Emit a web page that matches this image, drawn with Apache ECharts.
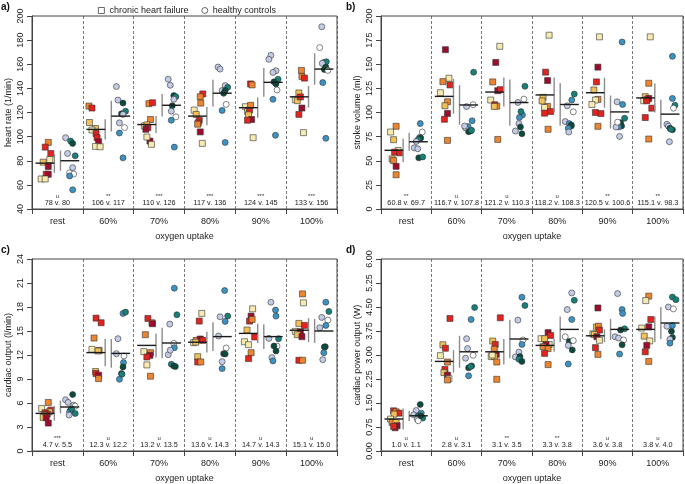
<!DOCTYPE html>
<html><head><meta charset="utf-8">
<script src="https://cdn.jsdelivr.net/npm/echarts@6/dist/echarts.min.js"></script>
<style>html,body{margin:0;padding:0;background:#fff}#c{width:685px;height:484px}</style>
</head><body><div id="c"></div>
<script>
const FONT = '"Liberation Sans", Arial, sans-serif';
const stages = ['rest', '60%', '70%', '80%', '90%', '100%'];
const groupNames = ['chronic heart failure', 'healthy controls'];
const xName = 'oxygen uptake';

// ---- a) heart rate ----
const hrName = 'heart rate (1/min)';
const hrTicks = {min: 40, max: 200, interval: 20};
const hrChf = [
 [[.32,95.2,'O'],[.26,91.3,'R'],[.37,86.0,'R'],[.35,81.0,'P'],[.22,78.8,'Y'],[.32,75.2,'D'],[.28,68.8,'R'],[.32,68.8,'D'],[.18,64.9,'P'],[.26,64.9,'P']],
 [[.12,125.3,'O'],[.18,123.7,'R'],[.13,111.7,'Y'],[.25,106.7,'Y'],[.18,105.5,'P'],[.26,102.5,'R'],[.28,99.1,'R'],[.31,95.8,'D'],[.25,91.9,'P'],[.34,91.6,'P']],
 [[.30,127.3,'O'],[.37,128.1,'R'],[.33,114.2,'O'],[.21,108.9,'P'],[.26,109.7,'Y'],[.28,107.5,'R'],[.24,106.1,'D'],[.32,96.3,'D'],[.26,99.7,'P'],[.35,93.6,'P']],
 [[.36,135.4,'R'],[.31,133.1,'O'],[.32,127.8,'O'],[.19,122.0,'P'],[.23,118.4,'Y'],[.29,113.6,'R'],[.27,111.4,'R'],[.26,110.3,'O'],[.31,103.9,'D'],[.35,94.4,'P']],
 [[.30,143.7,'R'],[.33,142.9,'O'],[.20,124.8,'P'],[.24,121.0,'Y'],[.28,122.0,'R'],[.30,126.0,'O'],[.26,118.0,'Y'],[.32,114.2,'D'],[.24,113.6,'R'],[.35,99.1,'P']],
 [[.30,154.9,'O'],[.31,149.9,'O'],[.36,148.5,'R'],[.25,136.2,'Y'],[.18,130.6,'P'],[.22,129.8,'Y'],[.28,132.9,'R'],[.31,123.7,'D'],[.25,118.4,'R'],[.34,103.3,'P']]
];
const hrHc = [
 [[.66,99.1,'L'],[.76,96.3,'T'],[.80,94.4,'G'],[.70,86.0,'L'],[.85,84.1,'T'],[.80,74.3,'L'],[.74,69.9,'W'],[.82,69.0,'W'],[.74,67.4,'B'],[.80,55.9,'B']],
 [[.66,141.5,'L'],[.69,130.3,'L'],[.79,127.8,'G'],[.84,121.1,'T'],[.76,118.9,'G'],[.79,118.4,'L'],[.72,111.4,'L'],[.82,107.5,'W'],[.72,103.0,'B'],[.79,82.4,'B']],
 [[.68,147.6,'L'],[.72,142.6,'L'],[.79,134.0,'G'],[.83,133.1,'T'],[.79,130.9,'L'],[.76,125.6,'G'],[.74,121.1,'L'],[.83,116.4,'W'],[.74,113.6,'B'],[.80,91.3,'B']],
 [[.66,157.7,'L'],[.70,156.0,'L'],[.80,142.3,'L'],[.85,140.9,'T'],[.74,138.2,'L'],[.80,138.2,'G'],[.77,135.9,'G'],[.82,126.7,'W'],[.74,121.7,'B'],[.80,95.2,'B']],
 [[.70,167.4,'L'],[.66,164.1,'L'],[.80,154.6,'L'],[.74,153.2,'L'],[.84,147.6,'T'],[.76,145.4,'G'],[.80,143.7,'G'],[.82,138.7,'W'],[.74,130.9,'B'],[.79,101.1,'B']],
 [[.70,191.1,'L'],[.66,173.8,'W'],[.74,161.6,'L'],[.79,162.1,'T'],[.71,160.7,'L'],[.78,157.7,'G'],[.75,155.7,'G'],[.82,154.9,'W'],[.72,144.8,'B'],[.78,98.6,'B']]
];
const hrChfMean = [78, 106, 110, 117, 124, 133];
const hrHcMean = [80, 117, 126, 136, 145, 156];
const hrChfSd = [8, 8.4, 7, 7.5, 8.4, 9];
const hrHcSd = [8.4, 12.8, 9.3, 11.1, 11.9, 13];
const hrSig = ['u', '**', '***', '***', '***', '***'];

// ---- b) stroke volume ----
const svName = 'stroke volume (ml)';
const svTicks = {min: 0, max: 200, interval: 25};
const svChf = [
 [[.30,85.7,'O'],[.19,79.8,'P'],[.25,71.8,'Y'],[.34,60.6,'P'],[.27,58.9,'R'],[.37,58.2,'R'],[.22,51.9,'Y'],[.25,50.2,'O'],[.30,44.2,'D'],[.30,35.5,'O']],
 [[.28,165.1,'D'],[.35,135.5,'P'],[.23,132.0,'O'],[.37,128.6,'R'],[.18,120.5,'P'],[.32,111.1,'O'],[.27,107.0,'Y'],[.32,99.0,'D'],[.26,93.0,'R'],[.32,71.1,'O']],
 [[.36,168.6,'P'],[.28,151.9,'D'],[.22,131.7,'O'],[.32,122.6,'D'],[.37,123.7,'R'],[.18,112.9,'P'],[.26,108.0,'R'],[.30,106.6,'O'],[.25,106.3,'Y'],[.32,72.1,'O']],
 [[.34,180.1,'P'],[.27,141.8,'R'],[.31,133.1,'D'],[.22,115.7,'Y'],[.31,106.3,'O'],[.25,105.2,'P'],[.37,101.0,'R'],[.25,99.3,'R'],[.32,82.6,'O'],[.20,112.0,'Y']],
 [[.34,178.4,'P'],[.31,147.0,'D'],[.28,131.7,'R'],[.23,123.3,'Y'],[.31,113.6,'O'],[.26,112.9,'P'],[.19,108.3,'P'],[.26,100.0,'R'],[.37,98.9,'R'],[.31,85.7,'O']],
 [[.35,178.4,'P'],[.32,130.3,'O'],[.25,116.4,'Y'],[.22,112.2,'P'],[.28,113.2,'O'],[.32,114.6,'D'],[.28,112.2,'R'],[.38,104.5,'R'],[.25,94.8,'R'],[.32,72.5,'O']]
];
const svHc = [
 [[.78,88.5,'B'],[.82,79.8,'W'],[.77,74.2,'B'],[.79,73.5,'G'],[.74,72.1,'T'],[.70,70.0,'L'],[.66,63.4,'L'],[.73,62.4,'L'],[.75,53.0,'G'],[.83,54.0,'T']],
 [[.84,141.8,'T'],[.83,108.1,'W'],[.70,106.1,'L'],[.81,91.4,'B'],[.73,85.4,'B'],[.68,84.0,'L'],[.66,86.0,'L'],[.78,80.9,'G'],[.74,80.1,'G'],[.80,81.5,'T']],
 [[.86,127.2,'T'],[.84,113.9,'W'],[.72,110.4,'L'],[.81,97.5,'B'],[.75,94.8,'B'],[.74,88.5,'L'],[.77,85.0,'G'],[.67,80.8,'L'],[.80,78.0,'G'],[.78,101.0,'T']],
 [[.84,119.1,'T'],[.79,112.9,'B'],[.70,106.9,'L'],[.82,100.7,'W'],[.66,90.6,'L'],[.74,88.5,'B'],[.78,87.1,'G'],[.78,86.0,'G'],[.72,83.6,'B'],[.73,79.8,'L']],
 [[.79,173.1,'B'],[.69,111.1,'L'],[.80,108.3,'B'],[.84,94.1,'T'],[.76,89.5,'G'],[.78,86.0,'G'],[.72,85.0,'B'],[.67,85.0,'L'],[.74,75.2,'L'],[.70,90.0,'W']],
 [[.79,158.2,'B'],[.79,114.6,'B'],[.84,107.6,'T'],[.81,104.5,'W'],[.68,87.8,'L'],[.71,86.0,'L'],[.74,83.6,'G'],[.79,82.2,'G'],[.76,82.6,'T'],[.73,69.7,'L']]
];
const svChfMean = [60.8, 116.7, 121.2, 118.2, 120.5, 115.1];
const svHcMean = [69.7, 107.8, 110.3, 108.3, 100.6, 98.3];
const svChfSd = [12, 18, 15, 18, 15.5, 15];
const svHcSd = [9.4, 20.5, 24, 22, 17, 15];
const svSig = ['**', 'u', 'u', 'u', '**', '**'];

// ---- c) cardiac output ----
const coName = 'cardiac output (l/min)';
const coTicks = {min: 0, max: 24, interval: 3};
const coChf = [
 [[.32,6.07,'O'],[.19,5.32,'P'],[.37,5.11,'R'],[.34,4.9,'Y'],[.26,4.78,'R'],[.30,4.61,'R'],[.24,4.5,'O'],[.22,4.20,'Y'],[.28,4.16,'D'],[.32,3.49,'D']],
 [[.26,16.61,'R'],[.36,16.03,'R'],[.22,14.12,'O'],[.18,12.71,'P'],[.32,12.58,'O'],[.30,12.5,'Y'],[.25,9.93,'Y'],[.26,9.68,'R'],[.31,9.47,'D'],[.31,9.05,'O']],
 [[.28,16.57,'R'],[.36,16.03,'O'],[.37,15.91,'D'],[.23,14.54,'O'],[.20,12.42,'P'],[.33,12.29,'O'],[.32,11.96,'D'],[.26,11.75,'R'],[.26,10.76,'P'],[.33,9.35,'O']],
 [[.34,17.2,'P'],[.29,16.24,'R'],[.23,13.83,'O'],[.18,13.54,'P'],[.31,14.0,'D'],[.36,13.83,'R'],[.26,11.79,'Y'],[.26,11.13,'R'],[.32,11.13,'O'],[.22,13.6,'Y']],
 [[.34,17.77,'P'],[.31,16.86,'D'],[.28,16.24,'R'],[.33,16.45,'O'],[.23,15.12,'Y'],[.38,14.25,'R'],[.18,13.66,'P'],[.26,13.29,'P'],[.31,12.29,'O'],[.26,11.55,'R']],
 [[.32,19.64,'O'],[.34,18.52,'P'],[.25,15.95,'Y'],[.36,15.7,'R'],[.18,14.95,'P'],[.28,14.91,'D'],[.22,14.54,'Y'],[.31,14.29,'D'],[.25,11.34,'R'],[.32,11.34,'O']]
];
const coHc = [
 [[.80,7.06,'G'],[.66,6.40,'L'],[.71,6.07,'L'],[.82,5.73,'L'],[.85,5.61,'W'],[.76,5.15,'G'],[.74,4.90,'B'],[.78,5.24,'T'],[.73,4.49,'L'],[.85,4.69,'T']],
 [[.79,17.2,'B'],[.84,17.36,'T'],[.69,14.04,'L'],[.66,12.17,'L'],[.81,11.88,'W'],[.80,11.05,'B'],[.79,10.51,'G'],[.76,9.68,'G'],[.72,8.97,'B'],[.77,9.6,'T']],
 [[.80,20.35,'B'],[.85,17.03,'T'],[.71,15.86,'L'],[.79,13.46,'W'],[.80,12.92,'B'],[.68,12.04,'L'],[.74,10.84,'T'],[.79,10.63,'G'],[.82,10.55,'G'],[.72,12.6,'L']],
 [[.79,20.06,'B'],[.70,16.78,'L'],[.85,16.86,'T'],[.80,16.2,'B'],[.67,14.37,'L'],[.82,12.88,'W'],[.77,12.17,'G'],[.80,12.13,'G'],[.74,11.17,'L'],[.74,10.3,'B']],
 [[.70,18.6,'L'],[.79,17.61,'B'],[.80,16.86,'B'],[.85,14.04,'T'],[.66,14.08,'L'],[.82,13.12,'W'],[.76,13.12,'G'],[.80,12.5,'G'],[.72,11.67,'L'],[.74,11.26,'B']],
 [[.78,18.6,'B'],[.84,17.44,'T'],[.70,16.7,'L'],[.82,16.36,'W'],[.78,15.7,'B'],[.66,15.41,'L'],[.77,13.04,'G'],[.75,13.0,'G'],[.74,12.29,'B'],[.72,11.42,'L']]
];
const coChfMean = [4.7, 12.3, 13.2, 13.6, 14.7, 15.1];
const coHcMean = [5.5, 12.2, 13.5, 14.3, 14.3, 15.0];
const coChfSd = [0.9, 1.7, 1.5, 1.3, 1.2, 1.5];
const coHcSd = [0.8, 1.8, 1.9, 1.8, 1.55, 1.5];
const coSig = ['***', 'u', 'u', 'u', 'u', 'u'];

// ---- d) cardiac power output ----
const cpoName = 'cardiac power output (W)';
const cpoTicks = {min: 0, max: 6, interval: 0.75};
const cpoChf = [
 [[.25,1.256,'R'],[.30,1.225,'O'],[.36,1.183,'R'],[.26,1.152,'Y'],[.19,0.997,'P'],[.22,0.893,'O'],[.30,0.893,'Y'],[.32,0.789,'D'],[.28,0.727,'D'],[.25,0.768,'R']],
 [[.37,4.142,'R'],[.23,3.32,'Y'],[.28,3.21,'R'],[.18,2.98,'P'],[.32,2.78,'O'],[.27,2.55,'R'],[.25,2.45,'Y'],[.32,2.37,'D'],[.35,2.26,'P'],[.32,2.22,'O']],
 [[.37,4.163,'R'],[.22,3.436,'Y'],[.27,3.33,'R'],[.25,3.18,'O'],[.29,3.02,'D'],[.19,2.95,'P'],[.25,2.95,'Y'],[.30,2.78,'O'],[.30,2.24,'O'],[.21,3.0,'P']],
 [[.32,3.70,'D'],[.37,3.61,'R'],[.18,3.51,'P'],[.25,3.51,'Y'],[.34,3.33,'P'],[.28,3.32,'D'],[.22,3.26,'O'],[.32,3.2,'O'],[.25,3.05,'R'],[.32,2.70,'O']],
 [[.31,4.47,'D'],[.28,3.87,'Y'],[.32,3.9,'O'],[.34,3.78,'R'],[.21,3.66,'P'],[.24,3.64,'Y'],[.29,3.57,'D'],[.34,3.46,'P'],[.26,3.23,'R'],[.31,3.02,'O']],
 [[.32,4.84,'O'],[.26,4.70,'P'],[.36,4.11,'R'],[.32,3.88,'D'],[.18,3.84,'P'],[.23,3.59,'Y'],[.34,3.44,'P'],[.28,3.30,'D'],[.25,3.10,'R'],[.32,2.80,'O']]
];
const cpoHc = [
 [[.78,1.453,'G'],[.70,1.266,'L'],[.80,1.183,'B'],[.65,1.132,'L'],[.74,1.1,'T'],[.77,1.07,'B'],[.72,0.997,'L'],[.83,1.028,'T'],[.74,0.945,'W'],[.79,1.1,'G']],
 [[.86,4.485,'T'],[.79,4.11,'B'],[.70,3.51,'L'],[.83,2.99,'W'],[.68,2.9,'L'],[.80,2.66,'G'],[.74,2.6,'G'],[.78,2.64,'T'],[.74,2.35,'B'],[.72,3.2,'L']],
 [[.80,4.806,'B'],[.86,4.547,'T'],[.72,4.09,'L'],[.82,3.467,'W'],[.80,3.33,'B'],[.74,3.09,'L'],[.67,2.94,'L'],[.76,2.95,'G'],[.74,2.87,'T'],[.80,2.80,'G']],
 [[.79,4.94,'L'],[.84,4.71,'T'],[.70,4.42,'L'],[.79,4.11,'B'],[.66,3.57,'W'],[.74,3.42,'G'],[.82,3.45,'W'],[.72,3.30,'L'],[.80,3.16,'G'],[.72,2.72,'B']],
 [[.70,4.92,'L'],[.79,4.42,'B'],[.80,4.30,'B'],[.84,3.82,'T'],[.76,3.78,'G'],[.65,3.57,'L'],[.72,3.53,'L'],[.82,3.47,'W'],[.79,3.32,'G'],[.74,3.03,'B']],
 [[.79,4.81,'T'],[.86,4.73,'T'],[.71,4.5,'L'],[.81,4.44,'W'],[.79,3.92,'B'],[.68,3.9,'L'],[.77,3.74,'G'],[.79,3.55,'G'],[.74,3.49,'L'],[.74,3.37,'B']]
];
const cpoChfMean = [1.0, 2.8, 3.1, 3.3, 3.6, 3.8];
const cpoHcMean = [1.1, 3.1, 3.5, 3.8, 3.8, 4.0];
const cpoChfSd = [0.33, 0.35, 0.4, 0.2, 0.2, 0.4];
const cpoHcSd = [0.16, 0.5, 0.6, 0.4, 0.33, 0.5];
const cpoSig = ['u', 'u', '**', '**', 'u', 'u'];

// ---- styling ----
const chfColors = {P: '#f6eaae', Y: '#f1c158', O: '#ed8530', R: '#e2231e', D: '#9c0c2c'};
const hcColors = {W: '#ffffff', L: '#c2cce6', B: '#3b93c3', T: '#168079', G: '#0a4b3d'};

const panels = [
  {letter: 'a)', name: hrName, ticks: hrTicks, chf: hrChf, hc: hrHc, cm: hrChfMean, hm: hrHcMean, cs: hrChfSd, hs: hrHcSd, sig: hrSig, dec: 0, ldec: 0,
   grid: {left: 32, top: 16, width: 305, height: 193}},
  {letter: 'b)', name: svName, ticks: svTicks, chf: svChf, hc: svHc, cm: svChfMean, hm: svHcMean, cs: svChfSd, hs: svHcSd, sig: svSig, dec: 1, ldec: 0,
   grid: {left: 381, top: 16, width: 302, height: 193}},
  {letter: 'c)', name: coName, ticks: coTicks, chf: coChf, hc: coHc, cm: coChfMean, hm: coHcMean, cs: coChfSd, hs: coHcSd, sig: coSig, dec: 1, ldec: 0,
   grid: {left: 32, top: 259, width: 305, height: 194}},
  {letter: 'd)', name: cpoName, ticks: cpoTicks, chf: cpoChf, hc: cpoHc, cm: cpoChfMean, hm: cpoHcMean, cs: cpoChfSd, hs: cpoHcSd, sig: cpoSig, dec: 1, ldec: 2,
   grid: {left: 381, top: 259, width: 302, height: 194}}
];

const AX = '#444';
const grids = [], xAxes = [], yAxes = [], series = [], graphics = [];

panels.forEach((p, k) => {
  grids.push(Object.assign({show: true, borderColor: AX, borderWidth: 1, containLabel: false}, p.grid));
  // value axis for positions
  xAxes.push({type: 'value', gridIndex: k, min: 0, max: stages.length, show: false});
  // category axis for labels
  xAxes.push({type: 'category', gridIndex: k, data: stages, boundaryGap: true, position: 'bottom',
    axisLine: {show: true, lineStyle: {color: AX, width: 1}},
    axisTick: {show: true, length: 5, lineStyle: {color: AX}},
    axisLabel: {fontSize: 9, color: '#222', margin: 8, fontFamily: FONT},
    splitLine: {show: true, lineStyle: {color: '#555', width: 0.8, type: [3, 2]}},
    name: xName, nameLocation: 'middle', nameGap: 23,
    nameTextStyle: {fontSize: 9, color: '#222', fontFamily: FONT}});
  yAxes.push({type: 'value', gridIndex: k, min: p.ticks.min, max: p.ticks.max, interval: p.ticks.interval,
    axisLine: {show: true, lineStyle: {color: AX}},
    axisTick: {show: true, length: 5, lineStyle: {color: AX}},
    axisLabel: {fontSize: 9, color: '#222', rotate: 90, margin: 7, fontFamily: FONT,
      formatter: v => v.toFixed(p.ldec)},
    splitLine: {show: false},
    name: p.name, nameLocation: 'middle', nameGap: 19, nameRotate: 90,
    nameTextStyle: {fontSize: 9, color: '#222', fontFamily: FONT}});

  const toData = (arr, pal) => {
    const out = [];
    arr.forEach((pts, i) => pts.forEach(pt => out.push({value: [i + pt[0], pt[1]], itemStyle: {color: pal[pt[2]]}})));
    return out;
  };
  series.push({name: groupNames[0], type: 'scatter', xAxisIndex: 2 * k, yAxisIndex: k, symbol: 'rect', symbolSize: 6,
    itemStyle: {color: '#fff', borderColor: '#333', borderWidth: 0.6, opacity: 1}, data: toData(p.chf, chfColors), z: 3});
  series.push({name: groupNames[1], type: 'scatter', xAxisIndex: 2 * k, yAxisIndex: k, symbol: 'circle', symbolSize: 6,
    itemStyle: {color: '#fff', borderColor: '#333', borderWidth: 0.6, opacity: 1}, data: toData(p.hc, hcColors), z: 3});

  const meanSeries = (means, sds, left) => ({
    type: 'custom', xAxisIndex: 2 * k, yAxisIndex: k, silent: true, z: 5,
    data: means.map((m, i) => [i, m, sds[i]]),
    renderItem(params, api) {
      const i = api.value(0), m = api.value(1), s = api.value(2);
      const h0 = left ? i + 0.07 : i + 0.56, h1 = left ? i + 0.44 : i + 0.93, xv = left ? i + 0.44 : i + 0.56;
      const a = api.coord([h0, m]), b = api.coord([h1, m]), c = api.coord([xv, m + s]), d = api.coord([xv, m - s]);
      return {type: 'group', children: [
        {type: 'line', shape: {x1: c[0], y1: c[1], x2: d[0], y2: d[1]}, style: {stroke: '#8c8c8c', lineWidth: 1.4}},
        {type: 'line', shape: {x1: a[0], y1: a[1], x2: b[0], y2: b[1]}, style: {stroke: '#1a1a1a', lineWidth: 1.4}}
      ]};
    }
  });
  series.push(meanSeries(p.cm, p.cs, true));
  series.push(meanSeries(p.hm, p.hs, false));

  const labels = p.cm.map((m, i) => m.toFixed(p.dec) + ' v. ' + p.hm[i].toFixed(p.dec));
  series.push({
    type: 'custom', xAxisIndex: 2 * k, yAxisIndex: k, silent: true, z: 6,
    data: stages.map((s, i) => [i + 0.5, p.ticks.min]),
    renderItem(params, api) {
      const pt = api.coord([api.value(0), api.value(1)]);
      const i = params.dataIndex;
      return {type: 'group', children: [
        {type: 'text', x: pt[0], y: pt[1] - 2.5, style: {text: labels[i], fontSize: 7.3, fontFamily: FONT, fill: '#222', align: 'center', verticalAlign: 'bottom'}},
        {type: 'text', x: pt[0], y: pt[1] - 10, style: {text: p.sig[i], fontSize: 6, fontFamily: FONT, fill: '#333', align: 'center', verticalAlign: 'bottom'}}
      ]};
    }
  });

  graphics.push({type: 'text', left: p.grid.left < 100 ? 1 : 346, top: p.grid.top - 14,
    style: {text: p.letter, font: 'bold 10px ' + FONT, fill: '#111'}});
});

const chart = echarts.init(document.getElementById('c'), null, {renderer: 'canvas'});
chart.setOption({
  animation: false,
  backgroundColor: '#fff',
  grid: grids, xAxis: xAxes, yAxis: yAxes, series: series, graphic: graphics,
  legend: {left: 93, top: 1, itemWidth: 6, itemHeight: 6, itemGap: 13,
    textStyle: {fontSize: 9, color: '#222', fontFamily: FONT},
    data: [
      {name: groupNames[0], icon: 'rect', itemStyle: {color: '#fff', borderColor: '#444', borderWidth: 0.8}},
      {name: groupNames[1], icon: 'circle', itemStyle: {color: '#fff', borderColor: '#444', borderWidth: 0.8}}
    ]}
});
</script></body></html>
